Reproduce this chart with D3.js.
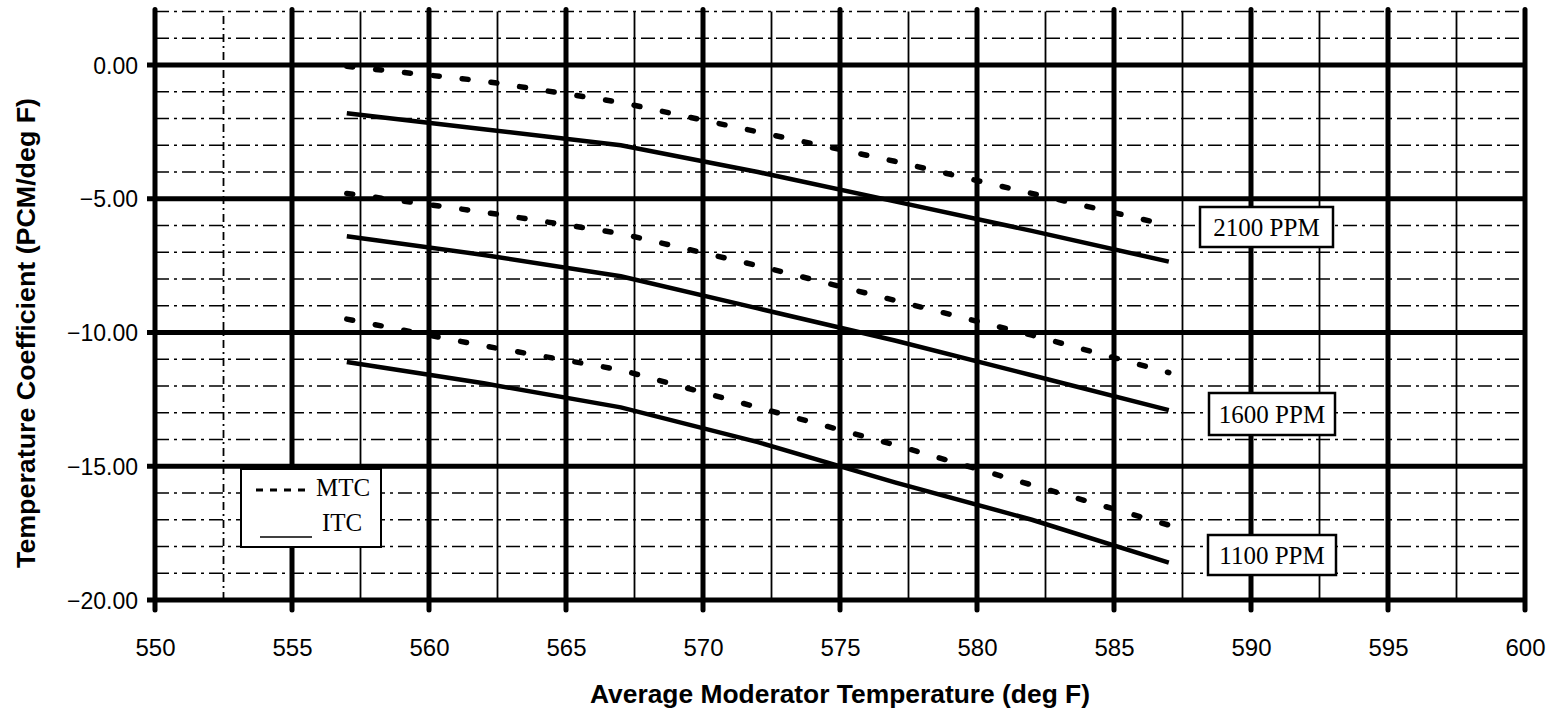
<!DOCTYPE html>
<html>
<head>
<meta charset="utf-8">
<script src="https://cdn.jsdelivr.net/npm/d3@7"></script>
<style>
  body { margin: 0; background: #fff; }
  svg { display: block; }
</style>
</head>
<body>
<svg id="chart" width="1556" height="713"></svg>
<script>
var temps = [557, 562, 567, 572, 577, 582, 587];
var mtc2100 = [-0.05, -0.6, -1.4, -2.5, -3.6, -4.8, -6.0];
var itc2100 = [-1.8, -2.4, -3.0, -4.0, -5.1, -6.2, -7.35];
var mtc1600 = [-4.8, -5.5, -6.3, -7.5, -8.8, -10.1, -11.5];
var itc1600 = [-6.4, -7.1, -7.9, -9.1, -10.3, -11.6, -12.9];
var mtc1100 = [-9.5, -10.5, -11.4, -12.8, -14.2, -15.7, -17.2];
var itc1100 = [-11.1, -11.9, -12.8, -14.1, -15.6, -17.0, -18.6];
var xTicks = [550, 555, 560, 565, 570, 575, 580, 585, 590, 595, 600];
var yTicks = [0, -5, -10, -15, -20];
var boronLabels = ["2100 PPM", "1600 PPM", "1100 PPM"];

var sans = "Liberation Sans, Arial, sans-serif";
var serif = "Liberation Serif, Times New Roman, serif";

var svg = d3.select("#chart");
var x = d3.scaleLinear().domain([550, 600]).range([155, 1525]);
var y = d3.scaleLinear().domain([-20, 2]).range([600, 11.5]);

// minor horizontal grid (every 1 unit), dash-dot
var minorY = d3.range(-19, 2.01, 1).filter(function(v) { return v % 5 != 0; });
svg.append("g").selectAll("line").data(minorY).enter().append("line")
  .attr("x1", x(550)).attr("x2", x(600))
  .attr("y1", function(d) { return y(d); }).attr("y2", function(d) { return y(d); })
  .attr("stroke", "#000").attr("stroke-width", 1.5)
  .attr("stroke-dasharray", "14,5,3,5");

// minor vertical grid (every 2.5)
var minorX = d3.range(552.5, 600, 5);
svg.append("g").selectAll("line").data(minorX).enter().append("line")
  .attr("x1", function(d) { return x(d); }).attr("x2", function(d) { return x(d); })
  .attr("y1", y(-20)).attr("y2", y(2))
  .attr("stroke", "#000").attr("stroke-width", 1.8)
  .attr("stroke-dasharray", function(d, i) { return i == 0 ? "8,4,2,4" : null; });

// major grid
svg.append("g").selectAll("line").data(yTicks).enter().append("line")
  .attr("x1", x(550) - 8).attr("x2", x(600))
  .attr("y1", function(d) { return y(d); }).attr("y2", function(d) { return y(d); })
  .attr("stroke", "#000").attr("stroke-width", 5);
svg.append("g").selectAll("line").data(xTicks).enter().append("line")
  .attr("x1", function(d) { return x(d); }).attr("x2", function(d) { return x(d); })
  .attr("y1", y(-20) + 10).attr("y2", y(2) - 2)
  .attr("stroke", "#000").attr("stroke-width", 5)
  .attr("stroke-linecap", "round");

// axes labels via d3 axes (lines hidden, grid drawn above)
var xAxis = svg.append("g").attr("transform", "translate(0," + y(-20) + ")")
  .call(d3.axisBottom(x).tickValues(xTicks).tickSize(0).tickPadding(39));
var yAxis = svg.append("g").attr("transform", "translate(" + x(550) + ",0)")
  .call(d3.axisLeft(y).tickValues(yTicks).tickSize(0).tickPadding(17).tickFormat(d3.format(".2f")));
[xAxis, yAxis].forEach(function(a) {
  a.select(".domain").remove();
  a.selectAll("text").attr("font-family", sans)
    .attr("font-size", 24).attr("fill", "#000");
});
yAxis.selectAll("text").attr("dy", "0.35em").attr("font-size", 23);

// series
var line = d3.line().x(function(d) { return x(d[0]); }).y(function(d) { return y(d[1]); });
var itcSets = [itc2100, itc1600, itc1100];
var mtcSets = [mtc2100, mtc1600, mtc1100];
itcSets.forEach(function(vals) {
  svg.append("path").datum(d3.zip(temps, vals)).attr("d", line)
    .attr("fill", "none").attr("stroke", "#000").attr("stroke-width", 4.5);
});
mtcSets.forEach(function(vals) {
  svg.append("path").datum(d3.zip(temps, vals)).attr("d", line)
    .attr("fill", "none").attr("stroke", "#000").attr("stroke-width", 5.5)
    .attr("stroke-linecap", "round")
    .attr("stroke-dasharray", "6,23");
});

// boron labels
var labelPos = [[1200, 207, 133, 40], [1209, 393, 126, 42], [1208, 535, 128, 40]];
boronLabels.forEach(function(t, i) {
  var p = labelPos[i];
  svg.append("rect").attr("x", p[0]).attr("y", p[1]).attr("width", p[2]).attr("height", p[3])
    .attr("fill", "#fff").attr("stroke", "#000").attr("stroke-width", 2.5);
  svg.append("text").attr("x", p[0] + p[2] / 2).attr("y", p[1] + p[3] / 2 + 9)
    .attr("text-anchor", "middle")
    .attr("font-family", serif).attr("font-size", 25)
    .text(t);
});

// legend
var lg = svg.append("g");
lg.append("rect").attr("x", 241).attr("y", 469).attr("width", 140).attr("height", 78)
  .attr("fill", "#fff").attr("stroke", "#000").attr("stroke-width", 2);
lg.append("line").attr("x1", 256).attr("x2", 310).attr("y1", 490).attr("y2", 490)
  .attr("stroke", "#000").attr("stroke-width", 3).attr("stroke-dasharray", "7,7");
lg.append("line").attr("x1", 260).attr("x2", 312).attr("y1", 537).attr("y2", 537)
  .attr("stroke", "#000").attr("stroke-width", 1.5);
lg.append("text").attr("x", 316).attr("y", 496).text("MTC")
  .attr("font-family", serif).attr("font-size", 25);
lg.append("text").attr("x", 322).attr("y", 531).text("ITC")
  .attr("font-family", serif).attr("font-size", 25);

// axis titles
svg.append("text").attr("x", 840).attr("y", 703).attr("text-anchor", "middle")
  .attr("font-family", sans).attr("font-size", 26)
  .attr("textLength", 500).attr("lengthAdjust", "spacingAndGlyphs")
  .attr("font-weight", "bold").text("Average Moderator Temperature (deg F)");
svg.append("text").attr("transform", "translate(35,333) rotate(-90)").attr("text-anchor", "middle")
  .attr("font-family", sans).attr("font-size", 25)
  .attr("textLength", 470).attr("lengthAdjust", "spacingAndGlyphs")
  .attr("font-weight", "bold").text("Temperature Coefficient (PCM/deg F)");
</script>
</body>
</html>
